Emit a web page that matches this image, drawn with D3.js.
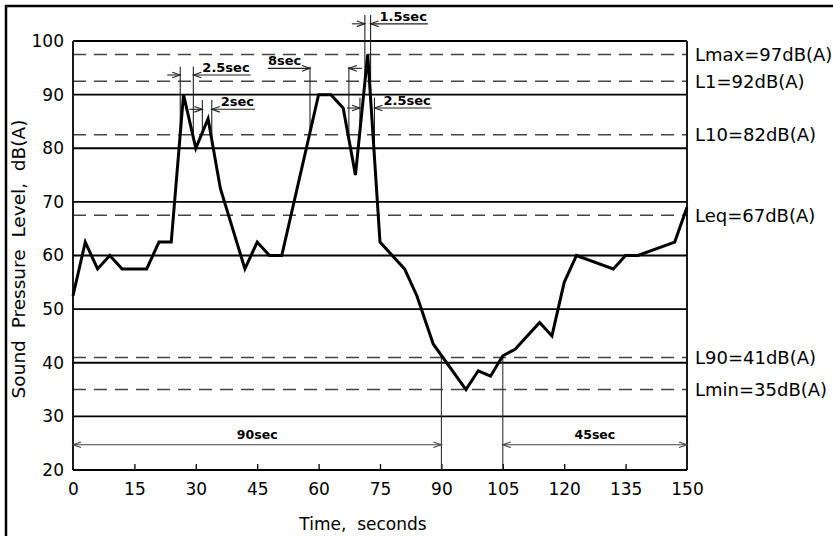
<!DOCTYPE html>
<html>
<head>
<meta charset="utf-8">
<script src="https://cdn.jsdelivr.net/npm/d3@7"></script>
<style>
  html, body { margin: 0; padding: 0; background: #fff; }
  svg { display: block; }
  text { font-family: "DejaVu Sans", sans-serif; fill: #000; }
</style>
</head>
<body>
<svg id="chart" width="833" height="536"></svg>
<script>
// ---- data ----
const times  = [0,3,6,9,12,18,21,24,27,30,33,36,42,45,48,51,60,63,66,69,72,75,81,84,88,96,99,102,105,108,114,117,120,123,132,135,138,147,150];
const levels = [52.5,62.5,57.5,60,57.5,57.5,62.5,62.5,90,80,85.5,72.5,57.5,62.5,60,60,90,90,87.5,75,97.5,62.5,57.5,52.5,43.5,35,38.5,37.5,41.3,42.5,47.5,45,55,60,57.5,60,60,62.5,69];

const xTicks = [0,15,30,45,60,75,90,105,120,135,150];
const yTicks = [20,30,40,50,60,70,80,90,100];

const refLabels = ["Lmax=97dB(A)","L1=92dB(A)","L10=82dB(A)","Leq=67dB(A)","L90=41dB(A)","Lmin=35dB(A)"];
const refLevels = [97.5,92.5,82.5,67.5,41,35];

// duration annotations (top)
const spanLabels = ["2.5sec","2sec","8sec","1.5sec","2.5sec"];
const spanStart  = [26.2,31.6,57.9,71.3,70.1];
const spanEnd    = [29.4,33.9,67.4,72.7,73.65];
const spanTop    = [95.2,89.0,95.2,104.85,89.4];
const spanArrow  = [93.66,87.26,94.9,103.2,87.5];
const spanTextLeft = [false,false,true,false,false];

// bottom durations
const durLabels = ["90sec","45sec"];
const durStart  = [0,105];
const durEnd    = [90,150];
const durLevel  = 24.7;
const durRefLevel = 41;

// ---- layout ----
const svg = d3.select("#chart");
const x = d3.scaleLinear().domain([0,150]).range([73,687]);
const y = d3.scaleLinear().domain([20,100]).range([470,41]);

const bis = d3.bisector(d => d).left;
function vAt(t){
  let i = bis(times, t);
  if (i <= 0) return levels[0];
  if (i >= times.length) return levels[levels.length-1];
  const t0 = times[i-1], t1 = times[i];
  return levels[i-1] + (levels[i]-levels[i-1])*(t-t0)/(t1-t0);
}

// page frame (left & top)
svg.append("line").attr("x1",6).attr("x2",6).attr("y1",5).attr("y2",536).attr("stroke","#000").attr("stroke-width",2.5);
svg.append("line").attr("x1",5).attr("x2",833).attr("y1",6).attr("y2",6).attr("stroke","#000").attr("stroke-width",2.5);

// solid gridlines
svg.append("g").selectAll("line").data(yTicks.filter(d => d > 20)).join("line")
  .attr("x1", x(0)).attr("x2", x(150))
  .attr("y1", d => y(d)).attr("y2", d => y(d))
  .attr("stroke","#000").attr("stroke-width",1.8);

// dashed reference lines
svg.append("g").selectAll("line").data(refLevels).join("line")
  .attr("x1", x(0)).attr("x2", x(150))
  .attr("y1", d => y(d)).attr("y2", d => y(d))
  .attr("stroke","#444").attr("stroke-width",1.5)
  .attr("stroke-dasharray","13,8");

// axes frame: left, bottom, right
svg.append("line").attr("x1",x(0)).attr("x2",x(0)).attr("y1",y(100)).attr("y2",y(20)).attr("stroke","#000").attr("stroke-width",1.8);
svg.append("line").attr("x1",x(150)).attr("x2",x(150)).attr("y1",y(100)).attr("y2",y(20)).attr("stroke","#000").attr("stroke-width",1.8);
svg.append("line").attr("x1",x(0)).attr("x2",x(150)).attr("y1",y(20)).attr("y2",y(20)).attr("stroke","#000").attr("stroke-width",1.8);

// bottom axis: inward ticks + labels
const xAxis = d3.axisBottom(x).tickValues(xTicks).tickSize(-6).tickPadding(16).tickFormat(d3.format("d"));
const gx = svg.append("g").attr("transform",`translate(0,${y(20)})`).call(xAxis);
gx.select(".domain").remove();
gx.selectAll(".tick line").attr("stroke","#000").attr("stroke-width",1.3)
  .filter(d => d === 0 || d === 150).remove();
gx.selectAll(".tick text").attr("font-size",17).attr("font-family","DejaVu Sans").attr("dy","0.55em");

// left axis labels
const yAxis = d3.axisLeft(y).tickValues(yTicks).tickSize(0).tickPadding(9).tickFormat(d3.format("d"));
const gy = svg.append("g").attr("transform",`translate(${x(0)},0)`).call(yAxis);
gy.select(".domain").remove();
gy.selectAll(".tick text").attr("font-size",17).attr("font-family","DejaVu Sans");

// axis titles
svg.append("text").attr("x",363).attr("y",530).attr("text-anchor","middle")
  .attr("font-size",17).style("white-space","pre").text("Time,  seconds");
svg.append("text").attr("transform","translate(25,259) rotate(-90)").attr("text-anchor","middle")
  .attr("font-size",18.5).style("white-space","pre").text("Sound  Pressure  Level,  dB(A)");

// right reference labels
svg.append("g").selectAll("text").data(refLabels).join("text")
  .attr("x", x(150)+8).attr("y",(d,i) => y(refLevels[i])).attr("dy","0.36em")
  .attr("font-size",18).text(d => d);

// arrow helper (open chevron at tip)
function arrow(g, x1, yy, x2, color, heads){
  g.append("line").attr("x1",x1).attr("x2",x2).attr("y1",yy).attr("y2",yy)
    .attr("stroke",color).attr("stroke-width",1.1);
  const dir = Math.sign(x2 - x1);
  const drawHead = (tx, d) => {
    g.append("path")
      .attr("d",`M${tx - d*8},${yy-2.8} L${tx},${yy} L${tx - d*8},${yy+2.8}`)
      .attr("fill","none").attr("stroke",color).attr("stroke-width",1.1);
  };
  if (heads.end) drawHead(x2, dir);
  if (heads.start) drawHead(x1, -dir);
}

// top duration annotations
const ga = svg.append("g");
spanLabels.forEach((lab,i) => {
  const xa = x(spanStart[i]), xb = x(spanEnd[i]);
  const yt = y(spanTop[i]), ya = y(spanArrow[i]);
  [spanStart[i], spanEnd[i]].forEach(t => {
    ga.append("line").attr("x1",x(t)).attr("x2",x(t))
      .attr("y1",yt).attr("y2",y(vAt(t)))
      .attr("stroke","#222").attr("stroke-width",1.1);
  });
  if (!spanTextLeft[i]) {
    arrow(ga, xa-13, ya, xa, "#222", {end:true});
    const t = ga.append("text").attr("x",xb+9).attr("y",ya-3)
      .attr("font-size",13).attr("font-weight","bold").text(lab);
    const w = t.node().getComputedTextLength();
    arrow(ga, xb+9+w+1, ya, xb, "#222", {end:true});
  } else {
    const t = ga.append("text").attr("x",xa-42).attr("y",ya-3)
      .attr("font-size",13).attr("font-weight","bold").text(lab);
    arrow(ga, xa-42, ya, xa, "#222", {end:true});
    arrow(ga, xb+13, ya, xb, "#222", {end:true});
  }
});

// bottom durations
const gb = svg.append("g");
[90,105].forEach(t => {
  gb.append("line").attr("x1",x(t)).attr("x2",x(t)).attr("y1",y(durRefLevel)).attr("y2",y(20))
    .attr("stroke","#333").attr("stroke-width",1.1);
});
durLabels.forEach((lab,i) => {
  arrow(gb, x(durStart[i]), y(durLevel), x(durEnd[i]), "#444", {start:true,end:true});
  gb.append("text").attr("x",(x(durStart[i])+x(durEnd[i]))/2).attr("y",y(durLevel)-6)
    .attr("text-anchor","middle").attr("font-size",12.5).attr("font-weight","bold").text(lab);
});

// data line
const line = d3.line().x((d,i) => x(times[i])).y(d => y(d));
svg.append("path").datum(levels).attr("d",line)
  .attr("fill","none").attr("stroke","#000").attr("stroke-width",3).attr("stroke-linejoin","miter");
</script>
</body>
</html>
